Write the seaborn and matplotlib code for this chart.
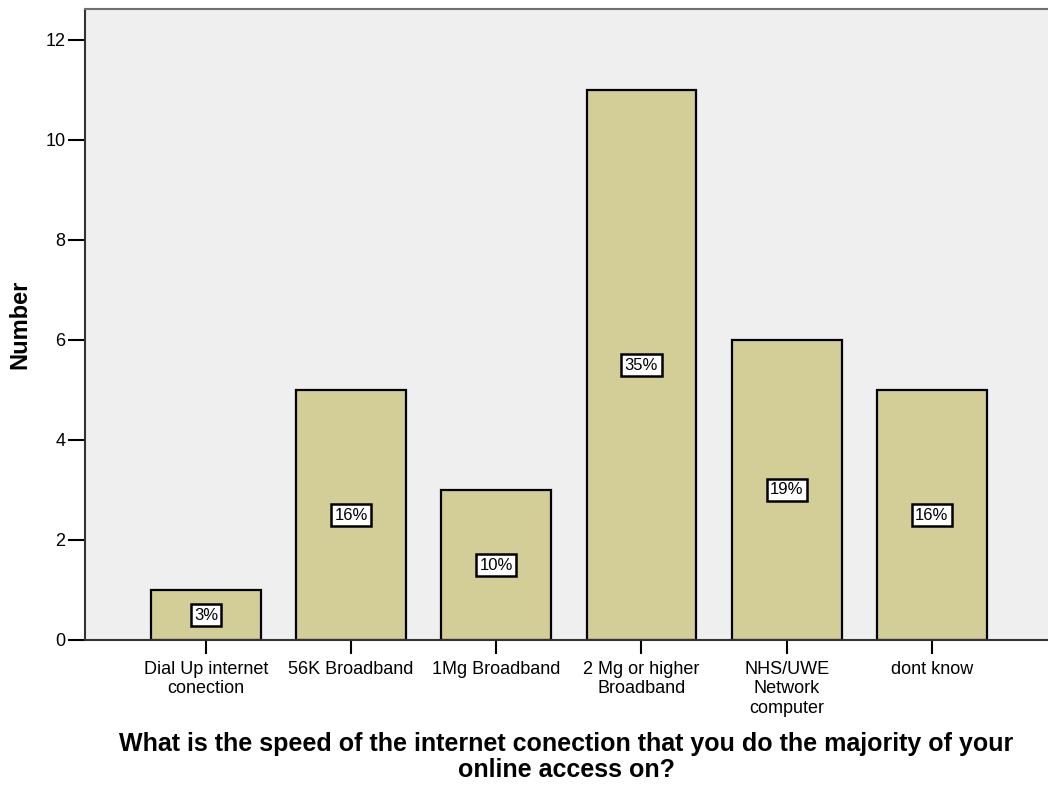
import matplotlib
matplotlib.use('Agg')
import matplotlib.pyplot as plt
import seaborn as sns
import pandas as pd

categories = ['Dial Up internet\nconection', '56K Broadband', '1Mg Broadband',
              '2 Mg or higher\nBroadband', 'NHS/UWE\nNetwork\ncomputer', 'dont know']
counts = [1, 5, 3, 11, 6, 5]
pct_labels = ['3%', '16%', '10%', '35%', '19%', '16%']

sns.set_style("white")
plt.rcParams['font.family'] = ['Liberation Sans', 'DejaVu Sans']
plt.rcParams['text.color'] = 'black'
plt.rcParams['axes.labelcolor'] = 'black'
plt.rcParams['xtick.color'] = 'black'
plt.rcParams['ytick.color'] = 'black'

df = pd.DataFrame({'category': categories, 'count': counts})

fig = plt.figure(figsize=(10.48, 7.85), dpi=100)
ax = fig.add_axes([85 / 1048, 1 - 640 / 785, 1 - 85 / 1048, 631 / 785])
ax.set_facecolor('#efefef')

sns.barplot(data=df, x='category', y='count', color='#d3ce97', saturation=1,
            width=0.757, edgecolor='black', linewidth=1.6, ax=ax)

for i, (c, lab) in enumerate(zip(counts, pct_labels)):
    ax.text(i, c / 2, lab, ha='center', va='center', fontsize=12,
            bbox=dict(boxstyle='square,pad=0.2', facecolor='white',
                      edgecolor='black', linewidth=1.8))

ax.set_xlim(-0.833, 5.8)
ax.set_ylim(0, 12.62)
ax.set_yticks([0, 2, 4, 6, 8, 10, 12])
ax.tick_params(axis='y', length=12, width=1.5, labelsize=13, pad=2, left=True)
ax.tick_params(axis='x', length=10, width=1.5, labelsize=13, pad=5, bottom=True)
for lbl in ax.get_xticklabels():
    lbl.set_linespacing(1.2)

for side in ['left', 'bottom']:
    ax.spines[side].set_color('#333333')
    ax.spines[side].set_linewidth(1.5)
ax.spines['top'].set_color('#707070')
ax.spines['top'].set_linewidth(1.5)
ax.spines['right'].set_visible(False)

ax.set_ylabel('Number', fontsize=17, fontweight='bold', labelpad=10)
ax.set_xlabel('What is the speed of the internet conection that you do the majority of your\nonline access on?',
              fontsize=18, fontweight='bold', labelpad=11, linespacing=1.1)

plt.savefig('out.png', dpi=100)
